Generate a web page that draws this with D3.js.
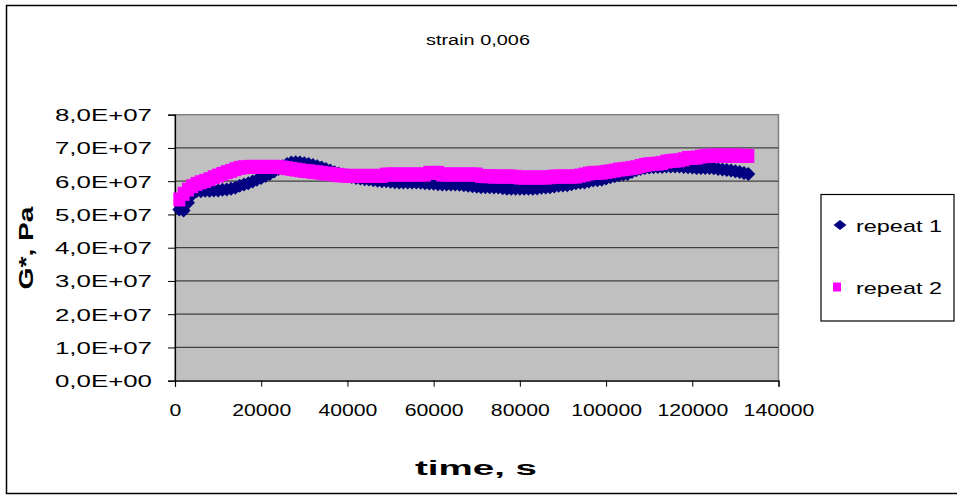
<!DOCTYPE html>
<html><head><meta charset="utf-8">
<script src="https://cdn.jsdelivr.net/npm/d3@7"></script>
<style>body{margin:0;background:#fff}svg{display:block}text{font-family:"Liberation Sans",Arial,sans-serif;fill:#000}</style>
</head><body><svg id="c" width="957" height="495"></svg>
<script>
// ---------- data ----------
const chartTitle = "strain 0,006";
const xTitle = "time, s";
const yTitle = "G*, Pa";
const seriesNames = ["repeat 1", "repeat 2"];
const times = [1000,2000,3000,4000,5000,6000,7000,8000,9000,10000,11000,12000,13000,14000,15000,16000,17000,18000,19000,20000,
21000,22000,23000,24000,25000,26000,27000,28000,29000,30000,31000,32000,33000,34000,35000,36000,37000,38000,39000,40000,
41000,42000,43000,44000,45000,46000,47000,48000,49000,50000,51000,52000,53000,54000,55000,56000,57000,58000,59000,60000,
61000,62000,63000,64000,65000,66000,67000,68000,69000,70000,71000,72000,73000,74000,75000,76000,77000,78000,79000,80000,
81000,82000,83000,84000,85000,86000,87000,88000,89000,90000,91000,92000,93000,94000,95000,96000,97000,98000,99000,100000,
101000,102000,103000,104000,105000,106000,107000,108000,109000,110000,111000,112000,113000,114000,115000,116000,117000,118000,119000,120000,
121000,122000,123000,124000,125000,126000,127000,128000,129000,130000,131000,132000,133000];
// G* in units of 1e7 Pa
const repeat1 = [5.15,5.12,5.35,5.60,5.70,5.70,5.71,5.71,5.72,5.72,5.74,5.75,5.77,5.80,5.86,5.90,5.94,5.99,6.04,6.10,
6.16,6.22,6.29,6.37,6.45,6.52,6.56,6.57,6.56,6.54,6.52,6.49,6.45,6.41,6.37,6.32,6.27,6.23,6.20,6.16,
6.13,6.10,6.08,6.06,6.05,6.03,6.01,6.00,6.00,5.98,5.97,5.96,5.96,5.96,5.96,5.96,5.95,5.94,5.93,5.92,
5.91,5.90,5.90,5.90,5.90,5.89,5.88,5.86,5.85,5.83,5.82,5.82,5.82,5.81,5.81,5.79,5.77,5.77,5.77,5.77,
5.77,5.77,5.77,5.78,5.80,5.81,5.82,5.84,5.86,5.87,5.88,5.91,5.94,5.95,5.96,5.99,6.02,6.03,6.04,6.08,
6.12,6.15,6.18,6.20,6.22,6.28,6.33,6.37,6.40,6.41,6.42,6.43,6.43,6.44,6.44,6.44,6.44,6.43,6.42,6.41,
6.40,6.40,6.40,6.40,6.39,6.37,6.35,6.34,6.32,6.30,6.28,6.25,6.22];
const repeat2 = [5.45,5.62,5.75,5.85,5.92,5.97,6.01,6.06,6.12,6.17,6.22,6.27,6.31,6.36,6.40,6.42,6.43,6.43,6.43,6.43,
6.43,6.43,6.43,6.43,6.41,6.39,6.37,6.35,6.33,6.31,6.30,6.28,6.27,6.25,6.23,6.22,6.20,6.18,6.17,6.16,
6.16,6.16,6.16,6.16,6.16,6.16,6.16,6.16,6.20,6.20,6.20,6.20,6.20,6.20,6.20,6.20,6.20,6.20,6.25,6.25,
6.25,6.20,6.20,6.20,6.20,6.20,6.20,6.20,6.20,6.20,6.16,6.15,6.15,6.14,6.14,6.14,6.14,6.14,6.13,6.11,
6.11,6.11,6.11,6.11,6.11,6.11,6.12,6.14,6.14,6.14,6.14,6.14,6.14,6.17,6.20,6.23,6.25,6.25,6.26,6.28,
6.30,6.32,6.35,6.36,6.38,6.40,6.42,6.46,6.49,6.51,6.52,6.53,6.55,6.59,6.61,6.62,6.63,6.66,6.70,6.70,
6.71,6.74,6.76,6.77,6.77,6.77,6.77,6.77,6.77,6.77,6.77,6.76,6.76];
const yTickValues = [0,1,2,3,4,5,6,7,8];
const yTickLabels = ["0,0E+00","1,0E+07","2,0E+07","3,0E+07","4,0E+07","5,0E+07","6,0E+07","7,0E+07","8,0E+07"];
const xTickValues = [0,20000,40000,60000,80000,100000,120000,140000];
const xTickLabels = ["0","20000","40000","60000","80000","100000","120000","140000"];
const seriesColors = ["#000080", "#ff00ff"];

// ---------- layout ----------
const svg = d3.select("#c");
const P = {l:175, r:778.5, t:114.7, b:380.7};
const x = d3.scaleLinear().domain([0,140000]).range([P.l,P.r]);
const y = d3.scaleLinear().domain([0,8]).range([P.b,P.t]);

svg.append("rect").attr("x",6.5).attr("y",5.5).attr("width",965).attr("height",488)
  .attr("fill","#fff").attr("stroke","#000").attr("stroke-width",1.5);

svg.append("rect").attr("x",P.l).attr("y",P.t).attr("width",P.r-P.l).attr("height",P.b-P.t)
  .attr("fill","#c0c0c0").attr("stroke","#808080").attr("stroke-width",1.5);

svg.append("g").selectAll("line").data(yTickValues.slice(1,-1)).join("line")
  .attr("x1",P.l).attr("x2",P.r).attr("y1",d=>y(d)).attr("y2",d=>y(d))
  .attr("stroke","#404040").attr("stroke-width",1.2);

const yAxis = d3.axisLeft(y).tickValues(yTickValues).tickSize(7).tickPadding(0)
  .tickFormat((d,i)=>yTickLabels[i]);
const gy = svg.append("g").attr("transform",`translate(${P.l},0)`).call(yAxis);
gy.select(".domain").attr("stroke","#000").attr("stroke-width",1.2);
gy.selectAll(".tick line").attr("stroke","#000");
gy.selectAll(".tick text").attr("x",-23).attr("dy",null).attr("y",6).attr("font-size",16)
  .attr("textLength",97).attr("lengthAdjust","spacingAndGlyphs");

const xAxis = d3.axisBottom(x).tickValues(xTickValues).tickSize(6).tickPadding(0)
  .tickFormat((d,i)=>xTickLabels[i]);
const gx = svg.append("g").attr("transform",`translate(0,${P.b})`).call(xAxis);
gx.select(".domain").attr("stroke","#000").attr("stroke-width",1.2);
gx.selectAll(".tick line").attr("stroke","#000");
gx.selectAll(".tick text").attr("dy",null).attr("y",35).attr("font-size",16)
  .each(function(d,i){ d3.select(this).attr("textLength",xTickLabels[i].length*11.8).attr("lengthAdjust","spacingAndGlyphs"); });
svg.selectAll(".tick text").attr("font-family",'"Liberation Sans",Arial,sans-serif').attr("fill","#000");

// series 1 : diamonds
const dw = 7, dh = 7;
const diamond = (cx,cy)=>`M${cx},${cy-dh}L${cx+dw},${cy}L${cx},${cy+dh}L${cx-dw},${cy}Z`;
svg.append("g").selectAll("path").data(times).join("path")
  .attr("d",(t,i)=>diamond(x(t),y(repeat1[i]))).attr("fill",seriesColors[0]);

// series 2 : squares
const sw = 12, sh = 14;
svg.append("g").selectAll("rect").data(times).join("rect")
  .attr("x",t=>x(t)-sw/2).attr("y",(t,i)=>y(repeat2[i])-sh/2)
  .attr("width",sw).attr("height",sh).attr("fill",seriesColors[1]);

// titles
svg.append("text").attr("x",478).attr("y",45).attr("text-anchor","middle").attr("font-size",14)
  .attr("textLength",104).attr("lengthAdjust","spacingAndGlyphs").text(chartTitle);
svg.append("text").attr("x",476).attr("y",475).attr("text-anchor","middle").attr("font-size",20)
  .attr("font-weight","bold").attr("textLength",122).attr("lengthAdjust","spacingAndGlyphs").text(xTitle);
svg.append("text").attr("transform","translate(33,248) rotate(-90)").attr("text-anchor","middle")
  .attr("font-size",20).attr("font-weight","bold")
  .attr("textLength",83).attr("lengthAdjust","spacingAndGlyphs").text(yTitle);

// legend
const lg = svg.append("g");
lg.append("rect").attr("x",821).attr("y",194.5).attr("width",133).attr("height",126.5)
  .attr("fill","#fff").attr("stroke","#000").attr("stroke-width",1.2);
const legY = [225, 287];
lg.append("path").attr("d",`M840,${legY[0]-5}L846.5,${legY[0]}L840,${legY[0]+5}L833.5,${legY[0]}Z`).attr("fill",seriesColors[0]);
lg.append("rect").attr("x",833).attr("y",legY[1]-4.5).attr("width",8).attr("height",9).attr("fill",seriesColors[1]);
lg.selectAll("text").data(seriesNames).join("text")
  .attr("x",856).attr("y",(d,i)=>legY[i]+7).attr("font-size",17)
  .attr("textLength",86).attr("lengthAdjust","spacingAndGlyphs").text(d=>d);
</script></body></html>
